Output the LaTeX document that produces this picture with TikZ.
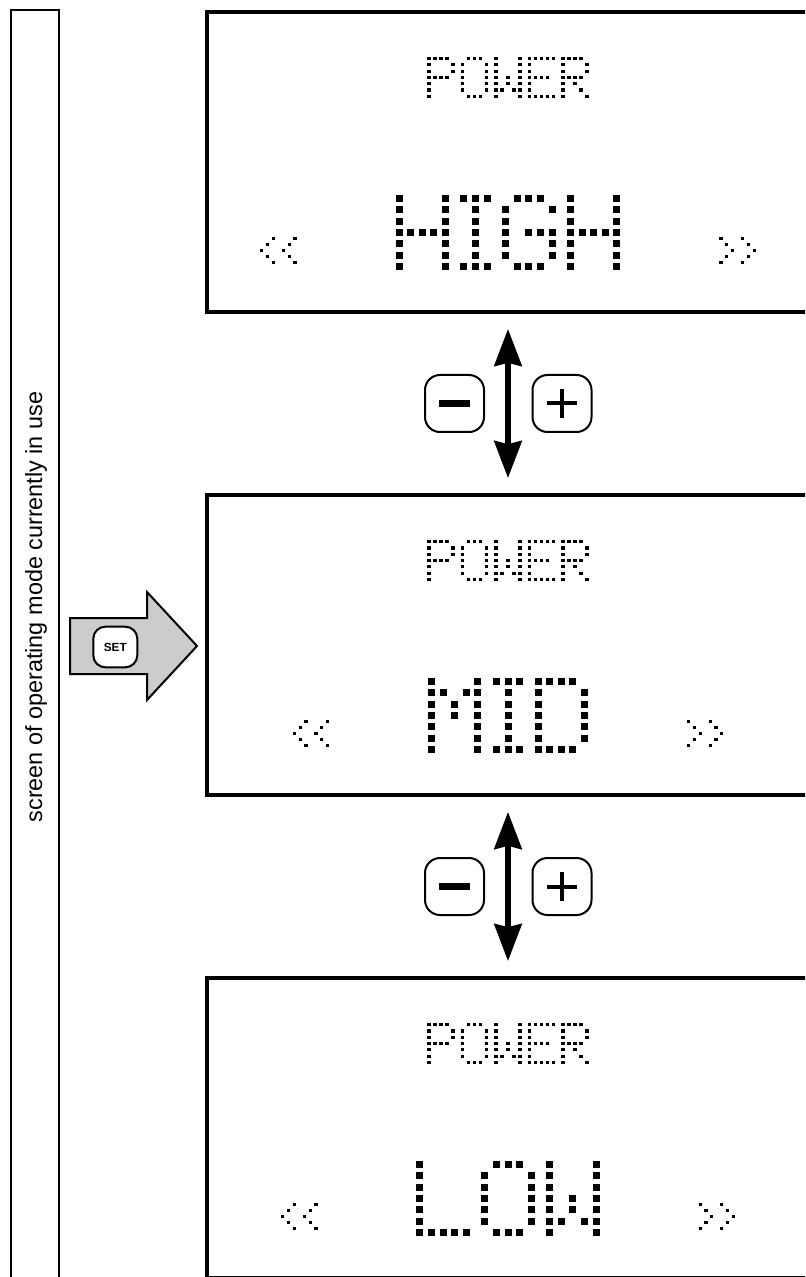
\documentclass[tikz,border=0pt]{standalone}
\usepackage{fontspec}
\setmainfont{Liberation Sans}
\usetikzlibrary{arrows.meta,calc}

% dot patterns of the display font, one group per row
\newcommand{\lcdH}{{1,0,0,0,1},{1,0,0,0,1},{1,0,0,0,1},{1,1,1,1,1},{1,0,0,0,1},{1,0,0,0,1},{1,0,0,0,1}}
\newcommand{\lcdI}{{1,1,1},{0,1,0},{0,1,0},{0,1,0},{0,1,0},{0,1,0},{1,1,1}}
\newcommand{\lcdG}{{0,1,1,1,0},{1,0,0,0,1},{1,0,0,0,0},{1,0,1,1,1},{1,0,0,0,1},{1,0,0,0,1},{0,1,1,1,0}}
\newcommand{\lcdM}{{1,0,0,0,1},{1,1,0,1,1},{1,0,1,0,1},{1,0,1,0,1},{1,0,0,0,1},{1,0,0,0,1},{1,0,0,0,1}}
\newcommand{\lcdD}{{1,1,1,1,0},{1,0,0,0,1},{1,0,0,0,1},{1,0,0,0,1},{1,0,0,0,1},{1,0,0,0,1},{1,1,1,1,0}}
\newcommand{\lcdL}{{1,0,0,0,0},{1,0,0,0,0},{1,0,0,0,0},{1,0,0,0,0},{1,0,0,0,0},{1,0,0,0,0},{1,1,1,1,1}}
\newcommand{\lcdO}{{0,1,1,1,0},{1,0,0,0,1},{1,0,0,0,1},{1,0,0,0,1},{1,0,0,0,1},{1,0,0,0,1},{0,1,1,1,0}}
\newcommand{\lcdW}{{1,0,0,0,1},{1,0,0,0,1},{1,0,0,0,1},{1,0,1,0,1},{1,0,1,0,1},{1,1,0,1,1},{1,0,0,0,1}}
\newcommand{\lcdP}{{1,1,1,1,0},{1,0,0,0,1},{1,0,0,0,1},{1,1,1,1,0},{1,0,0,0,0},{1,0,0,0,0},{1,0,0,0,0}}
\newcommand{\lcdE}{{1,1,1,1,1},{1,0,0,0,0},{1,0,0,0,0},{1,1,1,1,0},{1,0,0,0,0},{1,0,0,0,0},{1,1,1,1,1}}
\newcommand{\lcdR}{{1,1,1,1,0},{1,0,0,0,1},{1,0,0,0,1},{1,1,1,1,0},{1,0,1,0,0},{1,0,0,1,0},{1,0,0,0,1}}
\newcommand{\lcdLt}{{0,0,1},{0,1,0},{1,0,0},{0,1,0},{0,0,1}}
\newcommand{\lcdGt}{{1,0,0},{0,1,0},{0,0,1},{0,1,0},{1,0,0}}

% #1 centre x, #2 top row y, #3 pitch x, #4 pitch y, #5 gap, #6 dot, #7 glyph/width list
\newcommand{\lcdword}[7]{%
  \xdef\lcdw{-#5}%
  \foreach \g/\w in {#7}{\pgfmathsetmacro\lcdtmp{\lcdw+(\w-1)*#3+#5}\xdef\lcdw{\lcdtmp}}%
  \pgfmathsetmacro\lcdtmp{#1-\lcdw/2}\xdef\lcdx{\lcdtmp}%
  \foreach \g/\w in {#7}{%
    \edef\lcdrows{\g}%
    \foreach \bits [count=\ry from 0] in \lcdrows {%
      \foreach \bit [count=\cx from 0] in \bits {%
        \ifnum\bit=1 \fill ({\lcdx+\cx*#3-#6/2},{#2+\ry*#4-#6/2}) rectangle ++(#6,#6);\fi
      }}%
    \pgfmathsetmacro\lcdtmp{\lcdx+(\w-1)*#3+#5}\xdef\lcdx{\lcdtmp}}}
\newcommand{\lcdsmall}[2]{\lcdword{#1}{#2}{6}{6.3}{9.5}{3.2}}
\newcommand{\lcdbig}[2]{\lcdword{#1}{#2}{11.6}{11.3}{18.5}{7}}
\newcommand{\lcdarrow}[2]{\lcdword{#1}{#2}{5.8}{5.9}{10}{3.2}}

\begin{document}
\begin{tikzpicture}[x=0.5pt,y=-0.5pt,
  screen/.style={draw,line width=1.8pt,minimum width=301pt,minimum height=150pt},
  key/.style={draw,line width=1pt,rounded corners=7.5pt,minimum width=29.5pt,minimum height=28.5pt},
  setkey/.style={draw,fill=white,line width=1pt,rounded corners=6pt,minimum width=22pt,minimum height=20.3pt,
    inner sep=0pt,font=\fontsize{5.9}{6}\selectfont\bfseries},
  updown/.style={{Stealth[length=18.5pt,width=13.5pt,inset=1.5pt]}-{Stealth[length=18.5pt,width=13.5pt,inset=1.5pt]},
    line width=3.2pt,shorten <=7.5pt,shorten >=7.5pt}]
\useasboundingbox (0,0) rectangle (805,1277);
\clip (0,0) rectangle (805,1277);

% label strip
\draw[line width=1.25pt] (11,1300) -- (11,10) -- (59,10) -- (59,1300);
\node[rotate=90,font=\fontsize{11.7}{14}\selectfont] (caption) at (36,607) {screen of operating mode currently in use};

% screens
\node[screen] (top) at (508,162) {};
\node[screen] (mid) at (508,645) {};
\node[screen] (low) at (508,1128) {};

\lcdsmall{508}{162-84.5-18.9}{\lcdP/5,\lcdO/5,\lcdW/5,\lcdE/5,\lcdR/5}
\lcdbig{508}{162+70.5-33.9}{\lcdH/5,\lcdI/3,\lcdG/5,\lcdH/5}
\lcdarrow{278.4}{162+88.5-11.8}{\lcdLt/3,\lcdLt/3}
\lcdarrow{737.6}{162+88.5-11.8}{\lcdGt/3,\lcdGt/3}

\lcdsmall{508}{645-84.5-18.9}{\lcdP/5,\lcdO/5,\lcdW/5,\lcdE/5,\lcdR/5}
\lcdbig{508}{645+70.5-33.9}{\lcdM/5,\lcdI/3,\lcdD/5}
\lcdarrow{310.9}{645+88.5-11.8}{\lcdLt/3,\lcdLt/3}
\lcdarrow{705.1}{645+88.5-11.8}{\lcdGt/3,\lcdGt/3}

\lcdsmall{508}{1128-84.5-18.9}{\lcdP/5,\lcdO/5,\lcdW/5,\lcdE/5,\lcdR/5}
\lcdbig{508}{1128+70.5-33.9}{\lcdL/5,\lcdO/5,\lcdW/5}
\lcdarrow{299.3}{1128+88.5-11.8}{\lcdLt/3,\lcdLt/3}
\lcdarrow{716.7}{1128+88.5-11.8}{\lcdGt/3,\lcdGt/3}

% -/+ keys between screens
\draw[updown] (top.south) -- (mid.north);
\draw[updown] (mid.south) -- (low.north);
\foreach \y [count=\i] in {403.5,886.5}{
  \node[key] (minus\i) at (454.5,\y) {};
  \node[key] (plus\i) at (562,\y) {};
  \draw[line width=3.6pt] ($(minus\i)+(-15.3,0)$) -- ($(minus\i)+(15.3,0)$);
  \draw[line width=2pt] ($(plus\i)+(-14.6,0)$) -- ($(plus\i)+(14.6,0)$)
    ($(plus\i)+(0,-14.2)$) -- ($(plus\i)+(0,14.2)$);
}

% SET key
\draw[line width=1pt,fill=gray!40] (70,618) -- (147,618) -- (147,592) -- (197,646)
  -- (147,700) -- (147,674) -- (70,674) -- cycle;
\node[setkey] (set) at (115.3,647) {SET};
\end{tikzpicture}
\end{document}
